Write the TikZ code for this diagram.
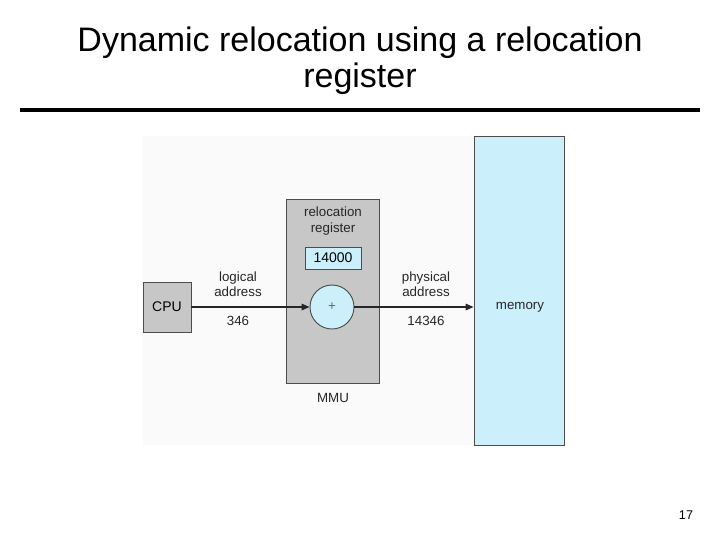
\documentclass[tikz,border=0pt]{standalone}
\usepackage{fontspec}
\setmainfont{Liberation Sans}
\usetikzlibrary{arrows.meta}
\begin{document}
\begin{tikzpicture}[x=0.75pt,y=-0.75pt,
  lbl/.style={font=\fontsize{10}{11.5}\selectfont, align=center, text=black!85},
  box/.style={draw=black!70, line width=0.7pt},
  arr/.style={-{Triangle[length=6pt,width=5pt]}, line width=0.9pt, black!85}]
\useasboundingbox (0,0) rectangle (720,540);
\fill[black!2] (143,136) rectangle (474,445);
\node[font=\fontsize{25.5}{27}\selectfont, align=center] (title) at (360,61) {Dynamic relocation using a relocation\\register};
\draw[line width=3pt] (20,110) -- (700,110);
\node[font=\fontsize{9.5}{11}\selectfont] (pg) at (686,515) {17};
\node[box, fill=black!22, minimum width=93*0.75pt, minimum height=184*0.75pt, inner sep=0] (mmu) at (332.5,291) {};
\node[box, fill=cyan!20!white, minimum width=90*0.75pt, minimum height=309*0.75pt, inner sep=0] (mem) at (519,290.5) {};
\node[box, fill=black!22, minimum width=48*0.75pt, minimum height=50*0.75pt, inner sep=0, font=\fontsize{10.5}{12}\selectfont] (cpu) at (167,307) {CPU};
\node[box, fill=cyan!20!white, minimum width=56*0.75pt, minimum height=22*0.75pt, inner sep=0, font=\fontsize{10.5}{12}\selectfont] (reg) at (333,258) {14000};
\node[lbl] (rl) at (333,221) {relocation\\register};
\node[box, circle, fill=cyan!20!white, minimum size=44*0.75pt, inner sep=0, text=black!60] (add) at (332,307) {+};
\node[lbl] at (520,307) {memory};
\node[lbl] (mmul) at (333,398) {MMU};
\draw[arr] (cpu) -- (add);
\draw[arr] (add) -- (mem.west |- add);
\node[lbl] at (238,284) {logical\\address};
\node[lbl] at (238,321) {346};
\node[lbl] at (426,284) {physical\\address};
\node[lbl] at (426,321) {14346};
\end{tikzpicture}
\end{document}
